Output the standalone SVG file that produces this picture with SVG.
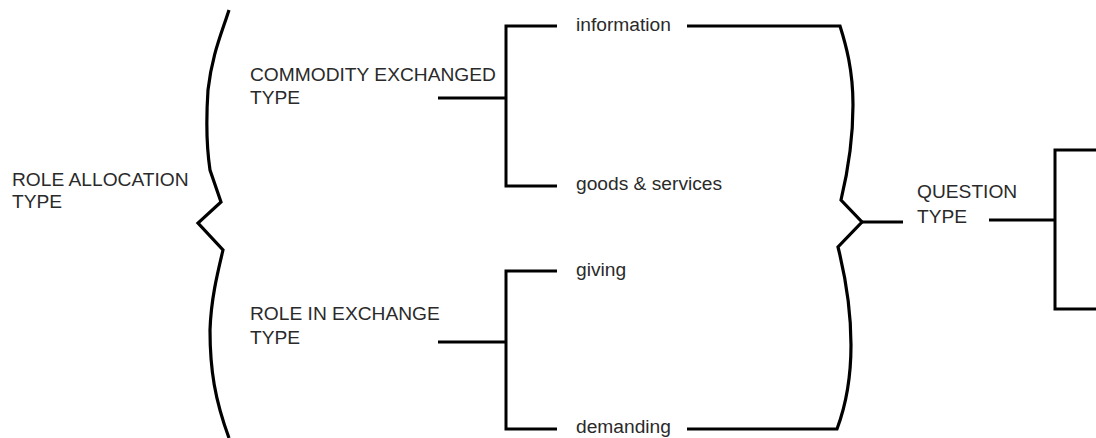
<svg xmlns="http://www.w3.org/2000/svg" width="1096" height="438" viewBox="0 0 1096 438">
<style>
.t{font-family:"Liberation Sans",Arial,sans-serif;font-size:19.2px;fill:#2a2a2a}
.ln{fill:none;stroke:#000;stroke-width:3;stroke-linejoin:miter;stroke-linecap:butt}
.br{fill:none;stroke:#000;stroke-width:3.2;stroke-linejoin:miter}
</style>
<rect width="1096" height="438" fill="#fff"/>
<g id="role-allocation"><text class="t" x="12" y="186">ROLE ALLOCATION</text><text class="t" x="12" y="208">TYPE</text></g>
<g id="commodity"><text class="t" x="250" y="81">COMMODITY EXCHANGED</text><text class="t" x="250" y="104">TYPE</text></g>
<g id="role-exchange"><text class="t" x="250" y="320">ROLE IN EXCHANGE</text><text class="t" x="250" y="344">TYPE</text></g>
<g id="information"><text class="t" x="576" y="31">information</text></g>
<g id="goods"><text class="t" x="576" y="190">goods &amp; services</text></g>
<g id="giving"><text class="t" x="576" y="276">giving</text></g>
<g id="demanding"><text class="t" x="576" y="433">demanding</text></g>
<g id="question"><text class="t" x="917" y="198">QUESTION</text><text class="t" x="917" y="223">TYPE</text></g>
<g id="connectors">
<path class="br" d="M229,10 C221,35 212,55 208,90 C206,120 207,150 210,170 L221,202 L198,223 L223,250 C217,275 211,300 210,330 C210,370 215,400 229,438"/>
<path class="br" d="M687,26 L840,26 C846,45 853,70 853,105 C853,145 847,175 841,200 L862,222 L838,247 C845,275 851,305 851,345 C851,380 846,405 837,429 L687,429"/>
<path class="ln" d="M862,222 L903,222"/>
<path class="ln" d="M438,98 L506,98 M557,26 L506,26 L506,186 L557,186"/>
<path class="ln" d="M438,342 L506,342 M557,271 L506,271 L506,429 L557,429"/>
<path class="ln" d="M989,220 L1055,220 M1096,150 L1055,150 L1055,309 L1096,309"/>
</g>
</svg>
